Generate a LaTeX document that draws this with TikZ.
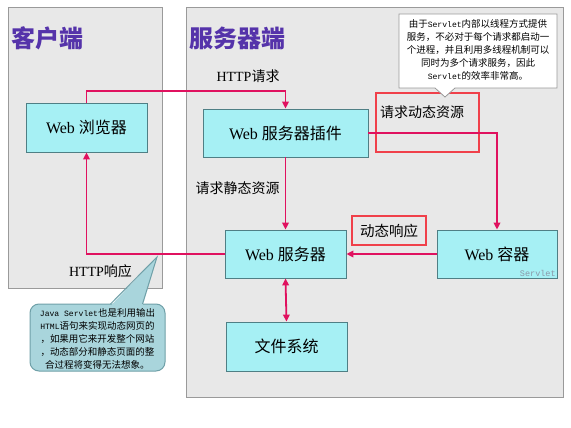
\documentclass[tikz,border=0pt]{standalone}
\usepackage{fontspec}
\usetikzlibrary{arrows.meta}
\setmainfont{Liberation Serif}
\newfontfamily\cjk{Noto Sans CJK SC}
\newfontfamily\monof[Scale=0.85]{Liberation Mono}
\newcommand\zh[1]{{\cjk #1}}
\newcommand\mn[1]{{\monof #1}}
\definecolor{panelbg}{HTML}{E8E8E8}
\definecolor{panelbd}{HTML}{9A9A9A}
\definecolor{boxfill}{HTML}{A6F0F4}
\definecolor{boxbd}{HTML}{4F7F85}
\definecolor{arrowc}{HTML}{E0115F}
\definecolor{redbd}{HTML}{F0404A}
\definecolor{titlec}{HTML}{5533AA}
\definecolor{c2fill}{HTML}{A9D5DC}
\definecolor{c2bd}{HTML}{6FA0A8}
\definecolor{servc}{HTML}{8A98A8}
\begin{document}
\begin{tikzpicture}[x=1pt,y=-1pt,
  panel/.style={draw=panelbd, fill=panelbg, line width=1pt, inner sep=0pt},
  titlet/.style={font=\cjk\bfseries\fontsize{24}{26}\selectfont, text=titlec, inner sep=0pt},
  box/.style={draw=boxbd, fill=boxfill, line width=0.8pt, minimum width=121pt, minimum height=49pt, font=\fontsize{16}{18}\selectfont, inner sep=0pt},
  lbl/.style={font=\fontsize{14}{16}\selectfont, inner sep=0pt},
  redrect/.style={draw=redbd, line width=1.3pt, inner sep=0pt},
  arr/.style={draw=arrowc, line width=1.8pt, -{Triangle[length=7pt,width=6.5pt]}},
  darr/.style={draw=arrowc, line width=1.8pt, {Triangle[length=7pt,width=6.5pt]}-{Triangle[length=7pt,width=6.5pt]}},
  note/.style={font=\cjk\fontsize{9.5}{13}\selectfont, align=center, inner sep=0pt}
]
\useasboundingbox (0,0) rectangle (571,428);
\fill[white] (0,0) rectangle (571,428);

% panels
\node[panel, minimum width=154pt, minimum height=280pt] (client) at (85,148) {};
\node[panel, minimum width=377pt, minimum height=389pt] (server) at (374.5,202.5) {};
\node[titlet, anchor=west] (tclient) at (11,38) {客户端};
\node[titlet, anchor=west] (tserver) at (189,38) {服务器端};

% red highlight rectangles
\node[redrect, minimum width=103pt, minimum height=59pt] (dynrect) at (427.5,122.5) {};
\node[lbl] (ldyn) at (422,112) {\zh{请求动态资源}};

% boxes
\node[box] (browser) at (86.5,127.5) {Web \zh{浏览器}};
\node[box, minimum width=165pt, minimum height=48pt] (plugin) at (285.5,133) {Web \zh{服务器插件}};
\node[box, minimum height=48pt] (wserver) at (285.5,254) {Web \zh{服务器}};
\node[box, minimum width=120pt, minimum height=48pt] (container) at (497,254) {Web \zh{容器}};
\node[box] (fs) at (286.5,346.5) {\zh{文件系统}};
\node[font=\monof\fontsize{10}{10}\selectfont, text=servc, anchor=south east, inner sep=1.5pt] (slabel) at (container.south east) {Servlet};

\node[redrect, fill=panelbg, minimum width=74pt, minimum height=29pt, font=\cjk\fontsize{14.5}{16}\selectfont] (dynresp) at (389,230.5) {动态响应};

% connectors
\coordinate (h1) at (285.5,91);
\draw[arr] (browser.north) |- (h1) -- (plugin.north);
\node[lbl] (lreq) at (248,76) {HTTP\zh{请求}};
\draw[arr] (plugin.east) -| (container.north);
\draw[arr] (plugin.south) -- (wserver.north);
\node[lbl] (lstatic) at (237.5,188) {\zh{请求静态资源}};
\draw[arr] (container.west) -- (wserver.east);
\draw[arr] (wserver.west) -| (browser.south);
\node[lbl] (lresp) at (100.5,271) {HTTP\zh{响应}};
\draw[darr] (wserver.south) -- (fs.north);

% top callout
\draw[draw=panelbd, fill=white, line width=0.8pt] (399,14) -- (557,14) -- (557,88) -- (455,88) -- (445,97) -- (435,88) -- (399,88) -- cycle;
\node[note] (note1) at (478,50) {由于\mn{Servlet}内部以线程方式提供\\服务，不必对于每个请求都启动一\\个进程，并且利用多线程机制可以\\同时为多个请求服务，因此\\\mn{Servlet}的效率非常高。};

% bottom callout
\node[draw=c2bd, fill=c2fill, line width=1pt, rounded corners=9pt, minimum width=135pt, minimum height=67pt, inner sep=0pt] (note2box) at (97.5,337.5) {};
\fill[c2fill] (110.5,306) -- (157,257) -- (142.5,306) -- cycle;
\draw[c2bd, line width=1pt] (110.5,304) -- (157,257) -- (142.5,304);
\node[note] (note2) at (97.5,339) {\mn{Java Servlet}也是利用输出\\\mn{HTML}语句来实现动态网页的\\，如果用它来开发整个网站\\，动态部分和静态页面的整\\合过程将变得无法想象。};
\end{tikzpicture}
\end{document}
